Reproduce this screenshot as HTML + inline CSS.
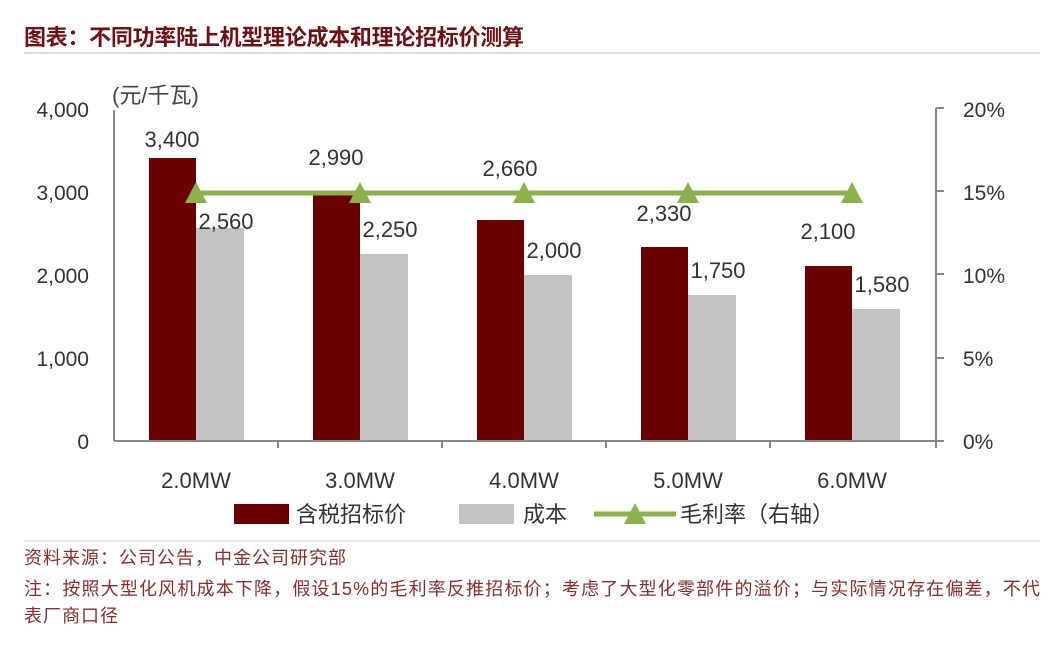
<!DOCTYPE html>
<html><head><meta charset="utf-8"><style>
body{margin:0;background:#fff;}
svg text{font-family:"Liberation Sans","Noto Sans CJK SC",sans-serif;}
</style></head><body>
<svg width="1057" height="641" viewBox="0 0 1057 641" xmlns="http://www.w3.org/2000/svg">
<rect width="1057" height="641" fill="#fff"/>
<text x="24" y="45" font-size="22" font-weight="bold" fill="#6e1014" textLength="500">图表：不同功率陆上机型理论成本和理论招标价测算</text>
<line x1="24" y1="53" x2="1040" y2="53" stroke="#ddd" stroke-width="2"/>
<text x="112" y="103" font-size="22" fill="#444">(元/千瓦)</text>
<g font-size="21" fill="#333" text-anchor="end">
<text x="89" y="117">4,000</text><text x="89" y="200">3,000</text><text x="89" y="283">2,000</text><text x="89" y="366">1,000</text><text x="89" y="449">0</text>
</g>
<g font-size="21" fill="#333">
<text x="963" y="117">20%</text><text x="963" y="200">15%</text><text x="963" y="283">10%</text><text x="963" y="366">5%</text><text x="963" y="449">0%</text>
</g>
<g fill="#6b0000">
<rect x="149" y="158" width="47" height="283"/>
<rect x="313" y="192" width="47" height="249"/>
<rect x="477" y="220" width="47" height="221"/>
<rect x="641" y="247" width="47" height="194"/>
<rect x="805" y="266" width="47" height="175"/>
</g>
<g fill="#c3c3c3">
<rect x="196" y="228" width="48" height="213"/>
<rect x="360" y="254" width="48" height="187"/>
<rect x="524" y="275" width="48" height="166"/>
<rect x="688" y="295" width="48" height="146"/>
<rect x="852" y="309" width="48" height="132"/>
</g>
<g stroke="#888" stroke-width="2" fill="none">
<line x1="114" y1="110" x2="114" y2="441"/>
<line x1="114" y1="441" x2="937" y2="441"/>
<line x1="936" y1="108" x2="936" y2="448"/>
<line x1="936" y1="108" x2="944" y2="108"/><line x1="936" y1="191" x2="944" y2="191"/><line x1="936" y1="274" x2="944" y2="274"/><line x1="936" y1="358" x2="944" y2="358"/><line x1="936" y1="441" x2="944" y2="441"/>
<line x1="278" y1="441" x2="278" y2="448"/><line x1="442" y1="441" x2="442" y2="448"/><line x1="606" y1="441" x2="606" y2="448"/><line x1="770" y1="441" x2="770" y2="448"/>
</g>
<line x1="196" y1="193" x2="852" y2="193" stroke="#8cb04a" stroke-width="5"/>
<g fill="#8cb04a">
<polygon points="196,182 185,203 207,203"/><polygon points="360,182 349,203 371,203"/><polygon points="524,182 513,203 535,203"/><polygon points="688,182 677,203 699,203"/><polygon points="852,182 841,203 863,203"/>
</g>
<g font-size="22" fill="#333" text-anchor="middle">
<text x="172" y="147">3,400</text><text x="336" y="165">2,990</text><text x="510" y="176">2,660</text><text x="664" y="221">2,330</text><text x="828" y="239">2,100</text>
<text x="226" y="229">2,560</text><text x="390" y="237">2,250</text><text x="554" y="258">2,000</text><text x="718" y="278">1,750</text><text x="882" y="292">1,580</text>
<text x="196" y="488">2.0MW</text><text x="360" y="488">3.0MW</text><text x="524" y="488">4.0MW</text><text x="688" y="488">5.0MW</text><text x="852" y="488">6.0MW</text>
</g>
<rect x="234" y="504" width="55" height="20" fill="#6b0000"/>
<text x="296" y="522" font-size="22" fill="#333">含税招标价</text>
<rect x="459" y="504" width="55" height="20" fill="#c3c3c3"/>
<text x="523" y="522" font-size="22" fill="#333">成本</text>
<line x1="594" y1="514" x2="676" y2="514" stroke="#8cb04a" stroke-width="5"/>
<polygon points="635,503 624,524 646,524" fill="#8cb04a"/>
<text x="680" y="522" font-size="22" fill="#333">毛利率（右轴）</text>
<line x1="24" y1="541" x2="1040" y2="541" stroke="#ddd" stroke-width="1.5"/>
<g font-size="18" fill="#8a2d2d">
<text x="24" y="564" textLength="322">资料来源：公司公告，中金公司研究部</text>
<text x="24" y="595" textLength="1016">注：按照大型化风机成本下降，假设15%的毛利率反推招标价；考虑了大型化零部件的溢价；与实际情况存在偏差，不代</text>
<text x="24" y="622" textLength="94">表厂商口径</text>
</g>
</svg>
</body></html>
